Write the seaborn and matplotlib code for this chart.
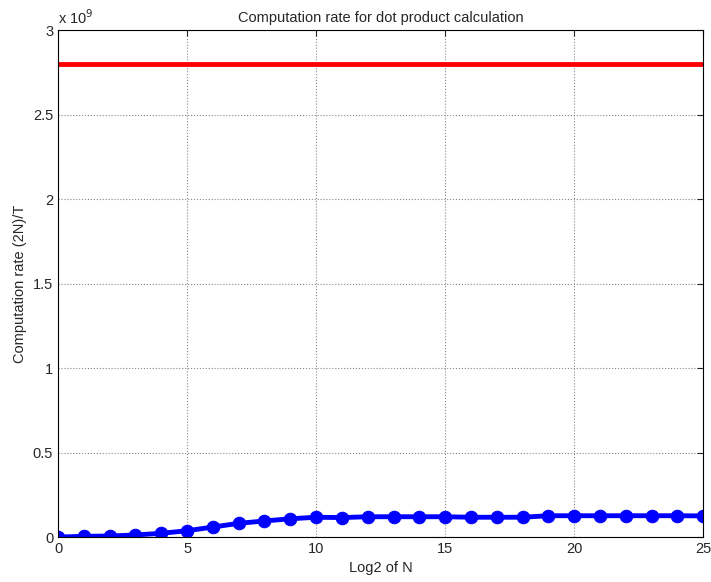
import numpy as np
import pandas as pd
import matplotlib
matplotlib.use("Agg")
import matplotlib.pyplot as plt
import seaborn as sns

# log2 de N et taux de calcul mesure
log2_n = list(range(26))
rate = [0.000e9, 0.004e9, 0.006e9, 0.012e9, 0.022e9, 0.037e9, 0.059e9, 0.081e9,
        0.095e9, 0.108e9, 0.117e9, 0.115e9, 0.120e9, 0.120e9, 0.120e9, 0.120e9,
        0.117e9, 0.117e9, 0.117e9, 0.126e9, 0.126e9, 0.126e9, 0.126e9, 0.126e9,
        0.126e9, 0.125e9]
peak_rate = 2.8e9

sns.set_style("white")
plt.rcParams['font.family'] = ['Liberation Sans', 'DejaVu Sans']

fig = plt.figure(figsize=(7.11, 5.82), dpi=100)
ax = fig.add_axes([0.0816, 0.0773, 0.9074, 0.8707])

df = pd.DataFrame({"log2n": log2_n, "rate": rate})
df_peak = pd.DataFrame({"log2n": [log2_n[0], log2_n[-1]], "rate": [peak_rate, peak_rate]})

sns.lineplot(data=df_peak, x="log2n", y="rate", color="red", linewidth=3.5, ax=ax)
sns.lineplot(data=df, x="log2n", y="rate", color="blue", linewidth=3.5,
             marker="o", markersize=9, markeredgecolor="blue", ax=ax)

ax.set_xlim(0, 25)
ax.set_ylim(0, 3e9)
ax.set_xticks([0, 5, 10, 15, 20, 25])
ax.set_yticks(np.arange(0, 3.01e9, 0.5e9))
ax.set_yticklabels(["0", "0.5", "1", "1.5", "2", "2.5", "3"])
ax.text(0.0, 1.012, r"x 10$^9$", transform=ax.transAxes, fontsize=10.5)

ax.grid(True, linestyle=":", color="#888888", linewidth=0.8)
ax.tick_params(direction="in", length=4, labelsize=10.5, top=True, right=True)
for s in ax.spines.values():
    s.set_color("black")
    s.set_linewidth(0.8)

ax.set_title("Computation rate for dot product calculation", fontsize=10.5)
ax.set_xlabel("Log2 of N", fontsize=10.5)
ax.set_ylabel("Computation rate (2N)/T", fontsize=10.5)

fig.savefig("out.png", dpi=100)
